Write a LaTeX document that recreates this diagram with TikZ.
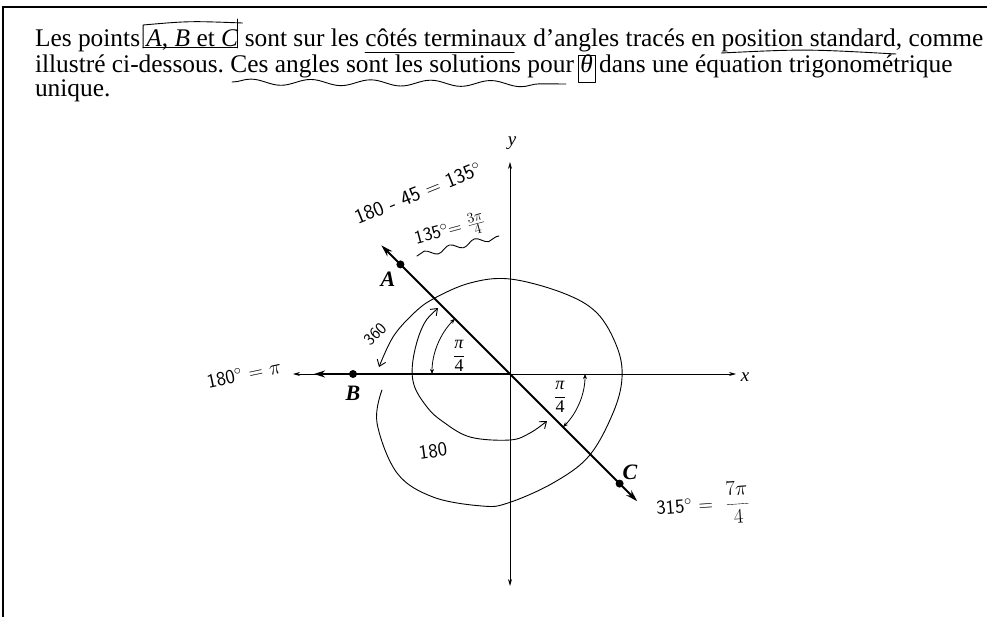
\documentclass[tikz,border=0pt]{standalone}
\usepackage{fontspec}
\setmainfont{Liberation Serif}
\usetikzlibrary{arrows.meta,decorations.pathmorphing,calc}
\begin{document}
\begin{tikzpicture}[x=1pt,y=-1pt,
  tx/.style={anchor=base west,inner sep=0pt,outer sep=0pt,font=\fontsize{25.4}{28}\selectfont},
  hand/.style={font=\sffamily\fontsize{19}{20}\selectfont,inner sep=1pt},
  pen/.style={line width=0.9pt,line cap=round,line join=round},
  axisline/.style={line width=0.7pt},
  axtip/.tip={Stealth[length=7pt,width=4pt]},
  bigtip/.tip={Stealth[length=12pt,width=7pt]},
  smalltip/.tip={Stealth[length=5pt,width=4pt]},
  barb/.tip={Straight Barb[length=6pt,width=9pt]},
  lbl/.style={font=\fontsize{22}{24}\selectfont\bfseries\itshape,inner sep=1pt},
  ptdot/.style={circle,fill,inner sep=0pt,minimum size=8pt},
  frac/.style={font=\fontsize{18}{20}\selectfont,inner sep=1pt}
]
\useasboundingbox (0,0) rectangle (987,617);
% frame
\draw[line width=1.1pt] (3,617) -- (3,7) -- (987,7);

% ---------- text ----------
\node[tx] (t1) at (35,47) {Les points};
\node[tx] (t2) at (t1.base east) {\ \textit{A}, \textit{B} et \textit{C}};
\node[tx] (t3) at (t2.base east) {\ sont sur les};
\node[tx] (t4) at (t3.base east) {\ côtés terminau};
\node[tx] (t5) at (t4.base east) {x d’angles tracés en};
\node[tx] (t6) at (t5.base east) {\ position standard};
\node[tx] (t7) at (t6.base east) {, comme};

\node[tx] (s1) at (35,73) {illustré ci-dessous.};
\node[tx] (s2) at (s1.base east) {\ Ces angles sont les solutions pour};
\node[tx] (s3) at (s2.base east) {\ \textit{θ}};
\node[tx] (s4) at (s3.base east) {\ dans une équation trigonométrique};

\node[tx] (u1) at (35,97) {unique.};

% hand marks on the text
\draw[pen] ($(t2.base west)+(3,1)$) -- ($(t2.base west)+(3,-22)$)
  .. controls ($(t2.base west)!0.5!(t2.base east)+(0,-26)$) .. ($(t2.base east)+(4,-24)$);
\draw[pen] ($(t2.base east)+(-1,-28)$) -- ($(t2.base east)+(-1,1)$);
\draw[pen] ($(t2.base west)+(3,0)$) -- ($(t2.base east)+(-1,0)$);
\draw[pen] ($(t4.base west)+(6,5)$) -- ($(t4.base east)+(0,5)$);
\draw[pen] ($(t6.base west)+(6,6)$) .. controls ($(t6.base west)!0.5!(t6.base east)+(0,2)$) .. ($(t6.base east)+(0,7)$);
\draw[pen,decorate,decoration={snake,amplitude=3pt,segment length=60pt}] ($(s2.base west)+(8,9)$) -- ($(s2.base east)+(-8,11)$);
\draw[pen] ($(s3.base west)+(4,9)$) rectangle ($(s3.base east)+(3,-18)$);

% ---------- axes ----------
\coordinate (O) at (510,374);
\coordinate (ytop) at (510,162);
\coordinate (ybot) at (510,586);
\coordinate (xr) at (736,374);
\coordinate (xl) at (293,374);
\coordinate (bl) at (314,374);
\draw[axisline,{axtip}-{axtip}] (ybot) -- (ytop);
\draw[axisline,-{axtip}] (O) -- (xr);
\draw[axisline,-{axtip}] (O) -- (xl);
\draw[line width=2.2pt,-{Stealth[length=11pt,width=7pt]}] (O) -- (bl);
\node[font=\itshape\fontsize{19}{20}\selectfont] (ylab) at (512,143) {y};
\node[font=\itshape\fontsize{19}{20}\selectfont] (xlab) at (745,377) {x};

% terminal side through A and C
\coordinate (atip) at ($(O)+(225:182)$);
\coordinate (ctip) at ($(O)+(45:180)$);
\draw[line width=1.9pt,{bigtip}-{bigtip}] (ctip) -- (atip);

\node[ptdot] (A) at ($(O)+(225:155)$) {};
\node[ptdot] (B) at (353,374) {};
\node[ptdot] (C) at ($(O)+(45:155)$) {};
\node[lbl] (Alab) at (388,279) {A};
\node[lbl] (Blab) at (353,393) {B};
\node[lbl] (Clab) at (630,472) {C};

% pi/4 arcs
\draw[line width=0.8pt,{smalltip}-{smalltip}] (432,374) arc[start angle=180,end angle=225,radius=78];
\draw[line width=0.8pt,{smalltip}-{smalltip}] (585,374) arc[start angle=0,end angle=45,radius=75];
\node[frac] (f1) at (459,356) {$\displaystyle\frac{\mbox{\itshape π}}{\mbox{4}}$};
\node[frac] (f2) at (560,397) {$\displaystyle\frac{\mbox{\itshape π}}{\mbox{4}}$};

% hand-drawn loops
\draw[pen,-{barb}] plot[smooth,tension=0.6] coordinates {(382,390) (377,423) (397,473) (433,497) (482,506) (508,503) (553,483) (589,456) (613,413) (622,378) (617,347) (597,313) (563,293) (510,279) (470,283) (433,299) (413,314) (393,337) (379,367)};
\draw[pen,{barb}-{barb}] plot[smooth,tension=0.6] coordinates {(438,308) (422,328) (413,360) (414,385) (427,407) (442,421) (470,437) (510,440) (530,433) (547,421)};

% hand-written notes
\node[hand,rotate=22,font=\sffamily\fontsize{21}{22}\selectfont] (n1) at (418,193) {180 - 45 = 135$^\circ$};
\node[hand,rotate=15,font=\sffamily\fontsize{19}{20}\selectfont] (n2) at (450,230) {135$^\circ$= $\frac{3\pi}{4}$};
\draw[pen,decorate,decoration={snake,amplitude=3pt,segment length=26pt}] (417,256) -- (499,236);
\node[hand,rotate=45,font=\sffamily\fontsize{17}{18}\selectfont] (n3) at (375,334) {360};
\node[hand,rotate=12,font=\sffamily\fontsize{20}{21}\selectfont] (n4) at (244,374) {180$^\circ$ = $\pi$};
\node[hand,rotate=8,font=\sffamily\fontsize{20}{21}\selectfont] (n5) at (433,451) {180};
\node[hand,rotate=4,font=\sffamily\fontsize{20}{21}\selectfont] (n6) at (703,505) {315$^\circ$ = \ $\displaystyle\frac{7\pi}{4}$};
\end{tikzpicture}
\end{document}
